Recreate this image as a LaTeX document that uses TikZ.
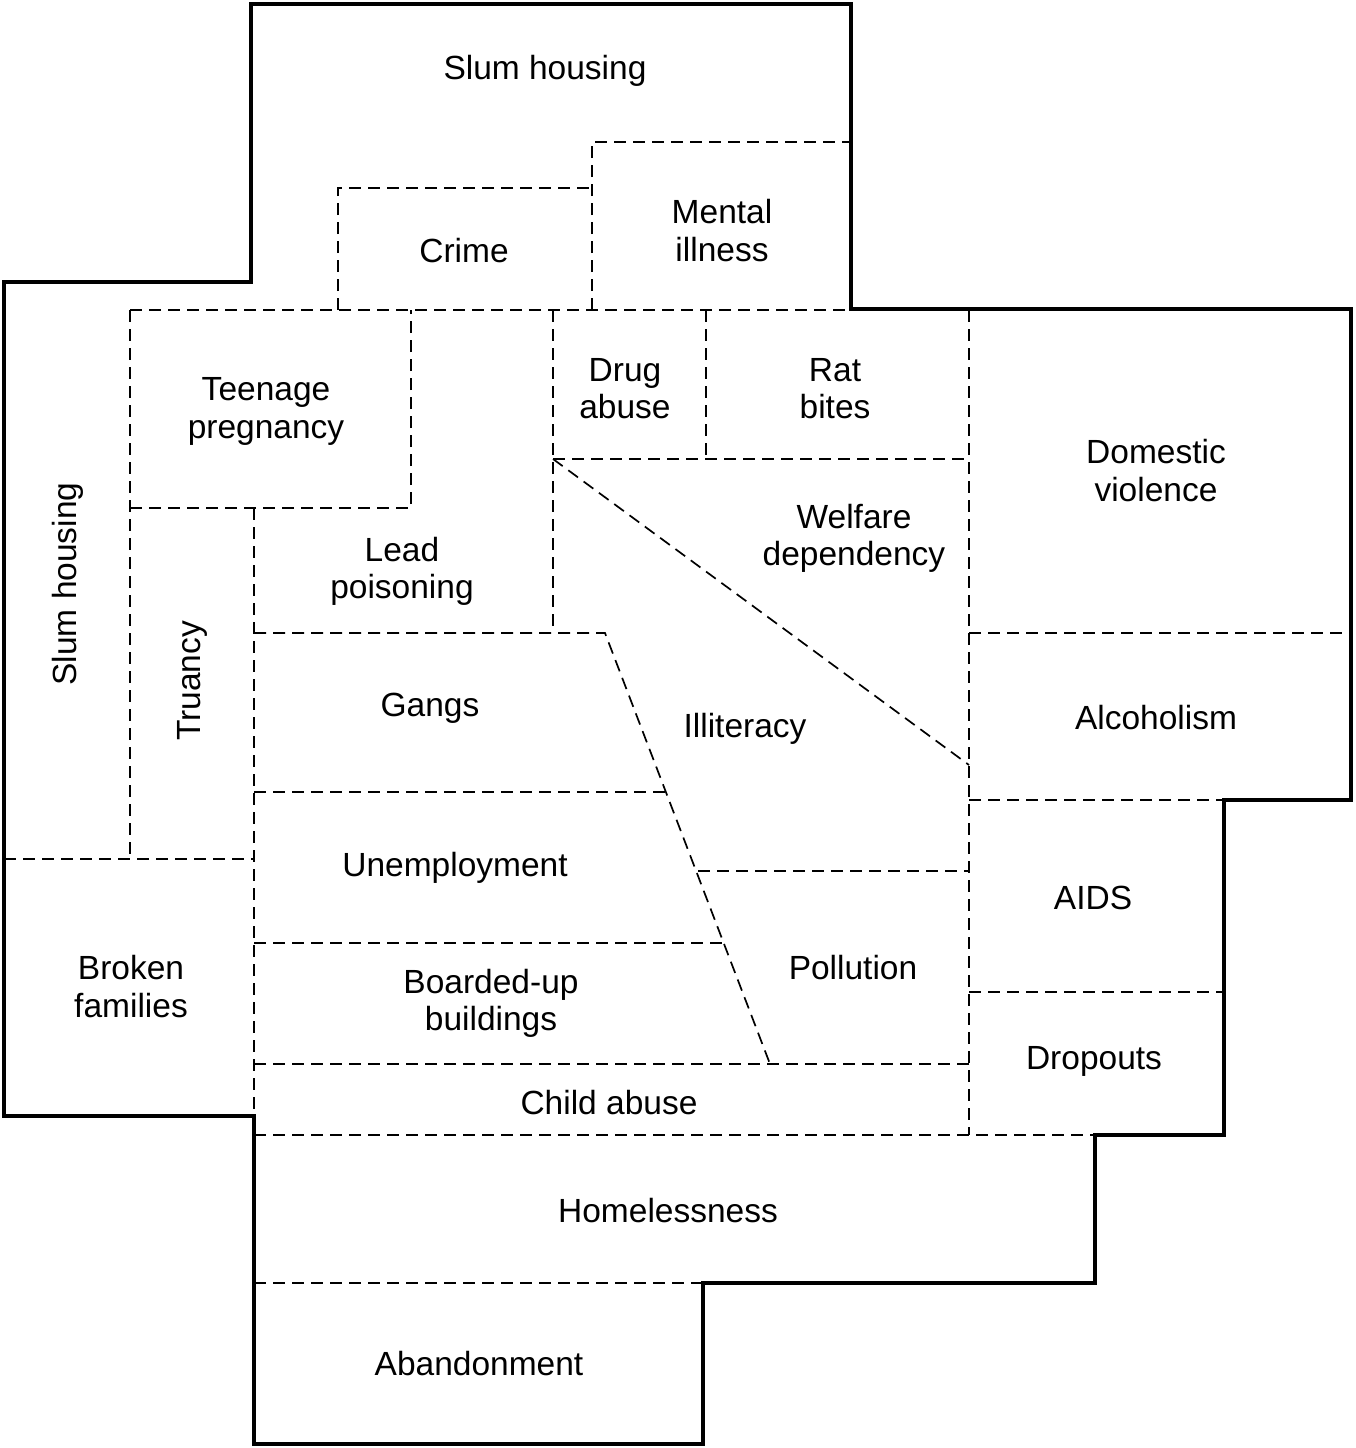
\documentclass[tikz,border=0pt]{standalone}
\usepackage{fontspec}
\setmainfont{Liberation Sans}
\begin{document}
\begin{tikzpicture}[x=1pt,y=-1pt,
  bound/.style={line width=3.5pt, line join=miter},
  part/.style={line width=1.7pt, dash pattern=on 12pt off 7pt},
  labbase/.style={align=center, font=\fontsize{33.5}{37.5}\selectfont, inner sep=0pt},
  lab/.style={labbase, yshift=-0.5pt},
  vlab/.style={labbase, rotate=90}]
\useasboundingbox (0,0) rectangle (1355,1448);
% internal dashed borders
\draw[part] (130,310) -- (851,310);
\draw[part] (338,310) -- (338,188) -- (592,188);
\draw[part] (592,310) -- (592,142) -- (851,142);
\draw[part] (130,310) -- (130,859);
\draw[part] (130,508) -- (411,508) -- (411,310);
\draw[part] (4,859) -- (254,859);
\draw[part] (254,508) -- (254,1116);
\draw[part] (553,310) -- (553,633);
\draw[part] (706,310) -- (706,459);
\draw[part] (553,459) -- (969,459);
\draw[part] (969,310) -- (969,1135);
\draw[part] (553,459) -- (969,765);
\draw[part] (254,633) -- (605,633) -- (770,1064);
\draw[part] (254,792) -- (666,792);
\draw[part] (254,943) -- (723,943);
\draw[part] (698,871) -- (969,871);
\draw[part] (254,1064) -- (969,1064);
\draw[part] (254,1135) -- (1095,1135);
\draw[part] (969,633) -- (1351,633);
\draw[part] (969,800) -- (1224,800);
\draw[part] (969,992) -- (1224,992);
\draw[part] (254,1283) -- (703,1283);
% outer boundary
\draw[bound] (251,4) -- (851,4) -- (851,309) -- (1351,309) -- (1351,800) -- (1224,800) -- (1224,1135) -- (1095,1135) -- (1095,1283) -- (703,1283) -- (703,1444) -- (254,1444) -- (254,1116) -- (4,1116) -- (4,282) -- (251,282) -- cycle;
% labels
\node[lab] (slumtop) at (545,70) {Slum housing};
\node[lab] (mental) at (722,230) {Mental\\illness};
\node[lab] (crime) at (464,250) {Crime};
\node[lab] (teen) at (266,411) {Teenage\\pregnancy};
\node[lab] (drug) at (625,388) {Drug\\abuse};
\node[lab] (rat) at (835,388) {Rat\\bites};
\node[lab] (domestic) at (1156,470) {Domestic\\violence};
\node[lab] (welfare) at (854,538) {Welfare\\dependency};
\node[lab] (lead) at (402,571) {Lead\\poisoning};
\node[vlab] (slumleft) at (68,584) {Slum housing};
\node[vlab] (truancy) at (192,681) {Truancy};
\node[lab] (gangs) at (430,708) {Gangs};
\node[lab] (illit) at (745,728) {Illiteracy};
\node[lab] (alcohol) at (1156,717) {Alcoholism};
\node[lab] (unemp) at (455,867) {Unemployment};
\node[lab] (aids) at (1093,897) {AIDS};
\node[lab] (pollution) at (853,967) {Pollution};
\node[lab] (broken) at (131,986) {Broken\\families};
\node[lab] (boarded) at (491,1003) {Boarded-up\\buildings};
\node[lab] (dropouts) at (1094,1061) {Dropouts};
\node[lab] (child) at (609,1102) {Child abuse};
\node[lab] (homeless) at (668,1210) {Homelessness};
\node[lab] (abandon) at (479,1363) {Abandonment};
\end{tikzpicture}
\end{document}
